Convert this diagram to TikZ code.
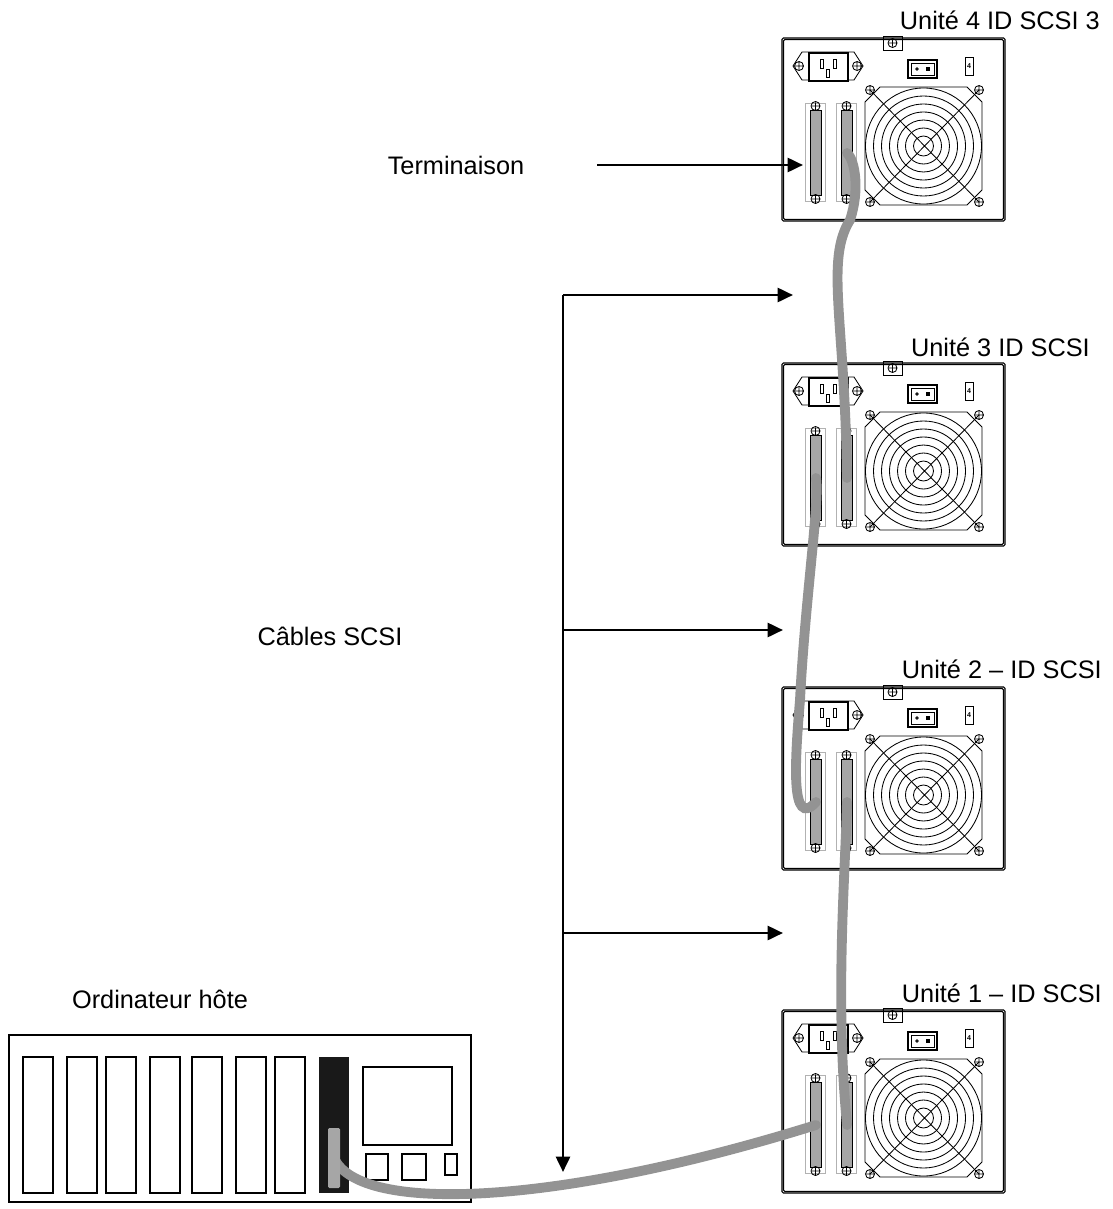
\documentclass[tikz,border=0pt]{standalone}
\usepackage{fontspec}
\setmainfont{Liberation Sans}
\usetikzlibrary{arrows.meta,positioning}

\tikzset{
  panel/.style={draw=black,thick,rounded corners=1pt},
  thin part/.style={draw=black,line width=0.6pt},
  slot/.style={draw=black,line width=1.6pt,fill=white},
  cable/.style={draw=gray!85,line width=7pt,line cap=round},
  bus/.style={draw=black,line width=2pt},
  lbl/.style={font=\fontsize{18}{21}\selectfont,inner sep=0pt},
  screw/.pic={\draw[line width=0.6pt] (0,0) circle (4.5) (-3.5,0) -- (3.5,0) (0,-3.5) -- (0,3.5);}
}

% one drive seen from the back, top left corner at (#1,#2), named #3
\newcommand{\drivepanel}[3]{%
  \begin{scope}[shift={(#1,#2)}]
    \draw[panel] (0,0) rectangle (223,183);
    \draw[panel] (1.5,1.5) rectangle (221.5,181.5);
    \draw[thin part] (101,-2) rectangle (120,12);
    \pic at (110.5,5) {screw};
    % power inlet
    \draw[thin part] (11,28) -- (20,14) -- (72,14) -- (81,28) -- (72,42) -- (20,42) -- cycle;
    \draw[thin part,line width=1pt,fill=white] (27,15) rectangle (66,43);
    \pic at (17,28) {screw};
    \pic at (75,28) {screw};
    \draw[thin part] (38,21) rectangle (41,30) (51,21) rectangle (54,30) (44.5,31) rectangle (47.5,39);
    % switch and id selector
    \draw[thin part,line width=0.9pt] (126,22) rectangle (155,40);
    \draw[thin part] (129,25) rectangle (152,37);
    \draw[thin part] (135,31) circle (1.2);
    \fill (144,29) rectangle (148,33);
    \draw[thin part] (183,19) rectangle (191,37);
    \node[font=\tiny\bfseries,inner sep=0pt] at (187,28) {4};
    % scsi connectors
    \foreach \cx in {23,54} {
      \draw[draw=gray!60,line width=0.5pt] (\cx,65) rectangle (\cx+20,163);
      \draw[thin part,fill=gray!70] (\cx+5,72) rectangle (\cx+16,157);
      \pic at (\cx+10.5,68) {screw};
      \pic at (\cx+10.5,161) {screw};
    }
    \coordinate (#3l) at (34,115);
    \coordinate (#3r) at (65,115);
    % fan
    \draw[thin part] (98,49) -- (185,49) -- (200,64) -- (200,152) -- (185,167) -- (98,167) -- (83,152) -- (83,64) -- cycle;
    \foreach \r in {10,18,...,58} \draw[thin part] (141.5,108) circle (\r);
    \draw[thin part] (88,52) -- (197,164) (197,52) -- (88,164);
    \foreach \sx/\sy in {88/52,197/52,88/164,197/164} \pic at (\sx,\sy) {screw};
  \end{scope}}

\begin{document}
\begin{tikzpicture}[x=0.025cm,y=-0.025cm]
  \useasboundingbox (0,0) rectangle (1112,1209);

  \drivepanel{782}{38}{d4}
  \drivepanel{782}{363}{d3}
  \drivepanel{782}{687}{d2}
  \drivepanel{782}{1010}{d1}

  \node[lbl,anchor=base east] (n4) at (1100,30) {Unité 4 ID SCSI 3};
  \node[lbl,anchor=base east] (n3) at (1090,356) {Unité 3 ID SCSI};
  \node[lbl,anchor=base east] (n2) at (1102,678) {Unité 2 – ID SCSI};
  \node[lbl,anchor=base east] (n1) at (1102,1002) {Unité 1 – ID SCSI};

  % host computer
  \draw[black,line width=1.4pt] (9,1035) rectangle (471,1202);
  \foreach \sx in {23,67,106,150,192,236,275}
    \draw[slot] (\sx,1057) rectangle (\sx+30,1193);
  \fill[black!90] (319,1057) rectangle (349,1193);
  \draw[slot] (363,1067) rectangle (452,1145);
  \draw[slot] (366,1154) rectangle (388,1180);
  \draw[slot] (402,1154) rectangle (426,1180);
  \draw[slot] (445,1154) rectangle (457,1175);
  \node[lbl,anchor=base] (host) at (160,1008) {Ordinateur hôte};
  \coordinate (hc) at (334,1158);

  % cables
  \draw[cable] (hc) .. controls (360,1215) and (560,1205) .. (d1l);
  \fill[gray!70,rounded corners=1pt] (328,1128) rectangle (340,1188);
  \draw[cable] (d1r) .. controls (835,1000) and (845,880) .. (d2r);
  \draw[cable] (d2l) .. controls (790,830) and (795,760) .. (800,700) .. controls (805,600) and (820,500) .. (d3l);
  \draw[cable] (d3r) .. controls (845,320) and (825,260) .. (850,220) .. controls (860,190) and (855,160) .. (d4r);

  % labels and arrows
  \node[lbl] (term) at (456,165) {Terminaison};
  \node[lbl] (cables) at (330,636) {Câbles SCSI};
  \coordinate (ta) at (597,165);
  \coordinate (tb) at (803,165);
  \draw[bus,-{Triangle[length=11pt,width=10pt]}] (ta) -- (tb);
  \coordinate (b0) at (563,295);
  \coordinate (b1) at (563,630);
  \coordinate (b2) at (563,933);
  \coordinate (b3) at (563,1172);
  \coordinate (a0) at (793,295);
  \coordinate (a1) at (783,630);
  \coordinate (a2) at (783,933);
  \draw[bus,-{Triangle[length=11pt,width=10pt]}] (b0) -- (b3);
  \foreach \i in {0,1,2}
    \draw[bus,-{Triangle[length=11pt,width=10pt]}] (b\i) -- (a\i);
\end{tikzpicture}
\end{document}
